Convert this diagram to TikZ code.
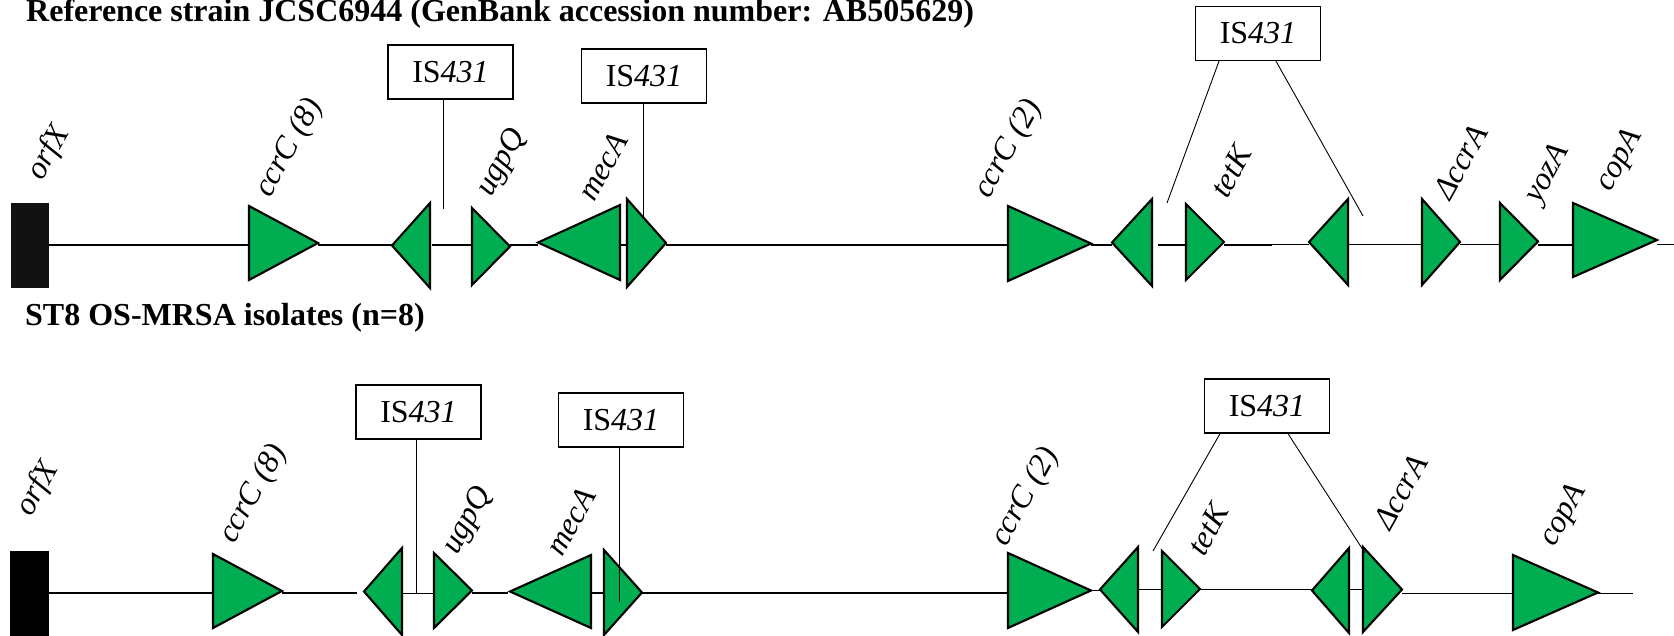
\documentclass[tikz,border=0pt]{standalone}
\usepackage{fontspec}
\setmainfont{Liberation Serif}
\usepackage{tikz}
\usetikzlibrary{positioning,calc}
\definecolor{genegreen}{RGB}{0,173,80}

\begin{document}
\begin{tikzpicture}[x=1pt,y=-1pt,
    gene/.style={draw=black, fill=genegreen, line width=2.1pt, line join=miter},
    bbthick/.style={line width=1.7pt},
    bbthin/.style={line width=1pt},
    isbox/.style={draw=black, line width=1.3pt, fill=white, minimum width=125pt, minimum height=54pt, inner sep=0pt, font=\fontsize{32}{38}\selectfont},
    lead/.style={line width=0.9pt},
    glabel/.style={rotate=61, anchor=base west, inner sep=0pt, font=\fontsize{32}{38}\selectfont\itshape},
    ttl/.style={anchor=base west, inner sep=0pt, font=\fontsize{32}{38}\selectfont\bfseries}]
    \useasboundingbox (0,0) rectangle (1674,636);
    % Titles
    \node[ttl] (ttlref) at (26,21.7) {Reference strain JCSC6944 (GenBank accession number: AB505629)};
    \node[ttl] (ttlst8) at (25,326) {ST8 OS-MRSA isolates (n=8)};

    % ---------- Reference strain ----------
    % Backbone
    \draw[bbthick] (49,245) -- (249,245);
    \draw[bbthick] (318,245) -- (392,245);
    \draw[bbthick] (432,245) -- (472,245);
    \draw[bbthick] (510,245) -- (538,245);
    \draw[bbthick] (620,245) -- (627,245);
    \draw[bbthick] (666,245) -- (1008,245);
    \draw[bbthick] (1091,245) -- (1112,245);
    \draw[bbthick] (1158,245) -- (1186,245);
    \draw[bbthick] (1224,245) -- (1272,245);
    \draw[bbthin] (1272,244.5) -- (1309,244.5);
    \draw[bbthin] (1348,244.5) -- (1422,244.5);
    \draw[bbthin] (1460,244.5) -- (1500,244.5);
    \draw[bbthick] (1538,245) -- (1573,245);
    \draw[bbthin] (1657,244.5) -- (1674,244.5);
    % Genes
    \fill[black!93] (11,203) rectangle (49,288);
    \draw[gene] (249,206) -- (318,243) -- (249,280) -- cycle;
    \draw[gene] (430,203) -- (392,245.5) -- (430,288) -- cycle;
    \draw[gene] (472,208) -- (510,246.5) -- (472,285) -- cycle;
    \draw[gene] (620,205) -- (538,242.5) -- (620,280) -- cycle;
    \draw[gene] (627,199) -- (666,243) -- (627,287) -- cycle;
    \draw[gene] (1008,206) -- (1091,243.5) -- (1008,281) -- cycle;
    \draw[gene] (1152,199) -- (1112,242.5) -- (1152,286) -- cycle;
    \draw[gene] (1186,204) -- (1224,242) -- (1186,280) -- cycle;
    \draw[gene] (1348,199) -- (1309,242) -- (1348,285) -- cycle;
    \draw[gene] (1422,199) -- (1460,242) -- (1422,285) -- cycle;
    \draw[gene] (1500,203) -- (1538,241.5) -- (1500,280) -- cycle;
    \draw[gene] (1573,203) -- (1657,240) -- (1573,277) -- cycle;
    % Labels
    \node[glabel] (ra) at (42,182) {orfX};
    \node[glabel] (rb) at (270,199) {ccrC (8)};
    \node[glabel] (rc) at (491,198) {ugpQ};
    \node[glabel] (rd) at (594,203) {mecA};
    \node[glabel] (re) at (989,200) {ccrC (2)};
    \node[glabel] (rf) at (1227,200) {tetK};
    \node[glabel] (rg) at (1450,202) {ΔccrA};
    \node[glabel] (rh) at (1539,205) {yozA};
    \node[glabel] (ri) at (1610,193) {copA};
    % IS431
    \node[isbox] (risa) at (450.5,72) {IS\textit{431}};
    \node[isbox] (risb) at (644,76) {IS\textit{431}};
    \node[isbox] (risc) at (1258,33.5) {IS\textit{431}};
    \coordinate (rina) at (443,209);
    \coordinate (rinb) at (643,217);
    \coordinate (rinc) at (1167,203);
    \coordinate (rind) at (1363,216);
    \draw[lead] (rina |- risa.south) -- (rina);
    \draw[lead] (rinb |- risb.south) -- (rinb);
    \draw[lead] ($(risc.south)+(-39,0)$) -- (rinc);
    \draw[lead] ($(risc.south)+(18,0)$) -- (rind);

    % ---------- ST8 OS-MRSA ----------
    % Backbone
    \draw[bbthick] (49,593) -- (213,593);
    \draw[bbthick] (282,593) -- (357,593);
    \draw[bbthin] (402,593) -- (434,593);
    \draw[bbthick] (472,593) -- (508,593);
    \draw[bbthick] (591,593) -- (604,593);
    \draw[bbthick] (642,593) -- (1008,593);
    \draw[bbthin] (1091,590) -- (1100,590);
    \draw[bbthin] (1138,589.5) -- (1162,589.5);
    \draw[bbthin] (1200,589.5) -- (1312,589.5);
    \draw[bbthin] (1349,589.5) -- (1363,589.5);
    \draw[bbthin] (1402,593) -- (1513,593);
    \draw[bbthin] (1598,593) -- (1633,593);
    % Genes
    \fill[black] (10,551) rectangle (49,640);
    \draw[gene] (213,554) -- (282,591) -- (213,628) -- cycle;
    \draw[gene] (402,548) -- (364,591.5) -- (402,635) -- cycle;
    \draw[gene] (434,553) -- (472,590.5) -- (434,628) -- cycle;
    \draw[gene] (591,555) -- (510,591.5) -- (591,628) -- cycle;
    \draw[gene] (604,550) -- (642,592.5) -- (604,635) -- cycle;
    \draw[gene] (1008,553) -- (1091,590.5) -- (1008,628) -- cycle;
    \draw[gene] (1138,547) -- (1100,589.5) -- (1138,632) -- cycle;
    \draw[gene] (1162,551) -- (1200,589) -- (1162,627) -- cycle;
    \draw[gene] (1349,548) -- (1312,590.5) -- (1349,633) -- cycle;
    \draw[gene] (1363,547) -- (1402,589.5) -- (1363,632) -- cycle;
    \draw[gene] (1513,555) -- (1598,592.5) -- (1513,630) -- cycle;
    % Labels
    \node[glabel] (sa) at (31,518) {orfX};
    \node[glabel] (sb) at (234,545) {ccrC (8)};
    \node[glabel] (sc) at (457,556) {ugpQ};
    \node[glabel] (sd) at (562,558) {mecA};
    \node[glabel] (se) at (1006,548) {ccrC (2)};
    \node[glabel] (sf) at (1204,558) {tetK};
    \node[glabel] (sg) at (1390,532) {ΔccrA};
    \node[glabel] (sh) at (1554,548) {copA};
    % IS431
    \node[isbox] (sisa) at (418.5,412) {IS\textit{431}};
    \node[isbox] (sisb) at (621,420) {IS\textit{431}};
    \node[isbox] (sisc) at (1267,406) {IS\textit{431}};
    \coordinate (sina) at (416.5,594);
    \coordinate (sinb) at (619,602);
    \coordinate (sinc) at (1153,551);
    \coordinate (sind) at (1365,553);
    \draw[lead] (sina |- sisa.south) -- (sina);
    \draw[lead] (sinb |- sisb.south) -- (sinb);
    \draw[lead] ($(sisc.south)+(-47,0)$) -- (sinc);
    \draw[lead] ($(sisc.south)+(21,0)$) -- (sind);
\end{tikzpicture}
\end{document}
